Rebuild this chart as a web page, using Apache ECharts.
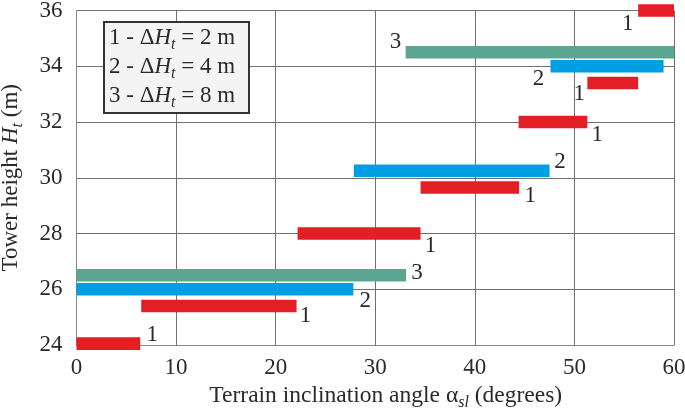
<!DOCTYPE html>
<html>
<head>
<meta charset="utf-8">
<script src="https://cdn.jsdelivr.net/npm/echarts@6/dist/echarts.min.js"></script>
<style>
html,body{margin:0;padding:0;background:#fff;}
#chart{width:685px;height:410px;}
</style>
</head>
<body>
<div id="chart"></div>
<script>
// ---- data ----
const xTicks = [0, 10, 20, 30, 40, 50, 60];
const yTicks = [24, 26, 28, 30, 32, 34, 36];
const barCurve = [1, 1, 2, 3, 1, 1, 2, 1, 1, 2, 3, 1];
const barHeight = [24.05, 25.4, 26.0, 26.5, 28.0, 29.65, 30.25, 32.0, 33.4, 34.0, 34.5, 36.0];
const barFrom = [0, 6.5, 0, 0, 22.2, 34.55, 27.85, 44.4, 51.3, 47.6, 33.05, 56.4];
const barTo = [6.4, 22.1, 27.8, 33.1, 34.55, 44.45, 47.5, 51.3, 56.4, 58.95, 60, 60];
const legendCurves = [1, 2, 3];
const legendDeltaH = [2, 4, 8];

// ---- styles (not data) ----
const curveColor = {1: '#e31e25', 2: '#009fe3', 3: '#5ba592'};
// label offset in px: [anchor ('start'|'end'), dx, dy]
const labelPlace = [
  ['end', 12, -9], ['end', 9, 10], ['end', 12, 12], ['end', 11, -2.5],
  ['end', 10, 12], ['end', 11, 8.5], ['end', 10.5, -9], ['end', 10, 13],
  ['start', -8, 11], ['start', -12, 13], ['start', -10, -10.5], ['start', -10.5, 13]
];
const FONT = 'Liberation Serif, Times New Roman, serif';
const TXT = '#2a2a2a';
const barThick = 0.45;

const seriesData = barCurve.map((c, i) => [barHeight[i], barFrom[i], barTo[i], c]);

const chart = echarts.init(document.getElementById('chart'));
const legendText = legendCurves.map((c, i) =>
  c + ' - Δ{i|H}{sub|t} = ' + legendDeltaH[i] + ' m').join('\n');

chart.setOption({
  animation: false,
  backgroundColor: '#fff',
  grid: {left: 76.5, right: 11, top: 10.5, bottom: 65, containLabel: false, outerBoundsMode: 'none'},
  xAxis: {
    type: 'value', min: xTicks[0], max: xTicks[xTicks.length - 1], interval: 10,
    axisLine: {show: true, lineStyle: {color: '#888', width: 1}},
    axisTick: {show: false},
    splitLine: {show: true, lineStyle: {color: '#707070', width: 1}},
    axisLabel: {fontFamily: FONT, fontSize: 23, color: TXT, margin: 11},
    name: 'Terrain inclination angle α{sub|sl} (degrees)',
    nameLocation: 'middle', nameGap: 35,
    nameTextStyle: {
      fontFamily: FONT, fontSize: 23.5, color: TXT, padding: [0, 0, 0, 21],
      rich: {
        sub: {fontFamily: FONT, fontSize: 16, fontStyle: 'italic', color: TXT, padding: [13, 0, 0, 0]}
      }
    }
  },
  yAxis: {
    type: 'value', min: yTicks[0], max: yTicks[yTicks.length - 1], interval: 2,
    axisLine: {show: true, lineStyle: {color: '#888', width: 1}},
    axisTick: {show: false},
    splitLine: {show: true, lineStyle: {color: '#707070', width: 1}},
    axisLabel: {fontFamily: FONT, fontSize: 23, color: TXT, margin: 14},
    name: 'Tower height {i|H}{sub|t} (m)',
    nameLocation: 'middle', nameGap: 51,
    nameTextStyle: {
      fontFamily: FONT, fontSize: 23, color: TXT,
      rich: {
        i: {fontFamily: FONT, fontSize: 23, fontStyle: 'italic', color: TXT},
        sub: {fontFamily: FONT, fontSize: 16, fontStyle: 'italic', color: TXT, padding: [13, 0, 0, 0]}
      }
    }
  },
  graphic: [
    {
      type: 'rect', left: 103, top: 21, z: 100,
      shape: {width: 145, height: 91},
      style: {fill: '#f4f4f4', stroke: '#333', lineWidth: 2}
    },
    {
      type: 'text', left: 109, top: 23, z: 101,
      style: {
        text: legendText,
        font: '23px ' + FONT,
        fill: TXT,
        lineHeight: 29,
        rich: {
          i: {fontFamily: FONT, fontSize: 23, fontStyle: 'italic', fill: TXT, lineHeight: 29},
          sub: {fontFamily: FONT, fontSize: 16, fontStyle: 'italic', fill: TXT, padding: [14, 0, 0, 0], lineHeight: 29}
        }
      }
    }
  ],
  series: [{
    type: 'custom',
    clip: false,
    data: seriesData,
    encode: {x: [1, 2], y: 0},
    renderItem: function (params, api) {
      const y = api.value(0), x0 = api.value(1), x1 = api.value(2), c = api.value(3);
      const p0 = api.coord([x0, y]);
      const p1 = api.coord([x1, y]);
      const h = api.size([0, barThick])[1];
      const lp = labelPlace[params.dataIndex];
      const ax = lp[0] === 'end' ? p1[0] : p0[0];
      return {
        type: 'group',
        children: [
          {
            type: 'rect',
            shape: {x: p0[0], y: p0[1] - h / 2, width: p1[0] - p0[0], height: h},
            style: {fill: curveColor[c]}
          },
          {
            type: 'text',
            x: ax + lp[1], y: p0[1] + lp[2],
            style: {
              text: String(c), font: '23px ' + FONT, fill: TXT,
              align: 'center', verticalAlign: 'middle'
            }
          }
        ]
      };
    }
  }]
});
</script>
</body>
</html>
